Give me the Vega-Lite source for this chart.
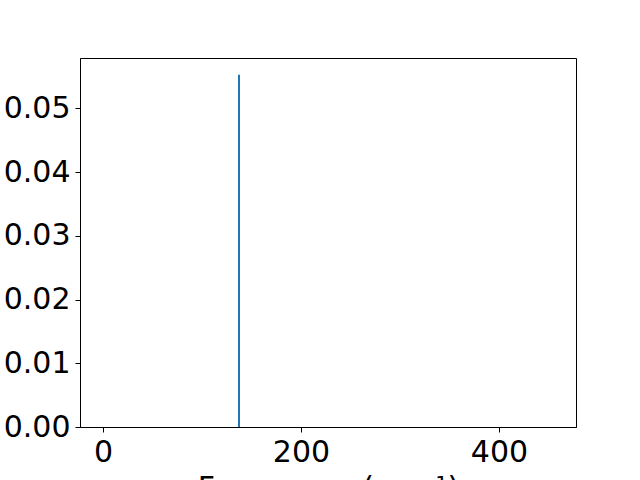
{
  "$schema": "https://vega.github.io/schema/vega-lite/v6.json",
  "width": 496,
  "height": 369,
  "autosize": {"type": "none"},
  "padding": {"left": 80, "top": 58, "right": 64, "bottom": 53},
  "background": "white",
  "config": {
    "view": {"stroke": "black", "strokeWidth": 1},
    "font": "DejaVu Sans",
    "axis": {
      "grid": false,
      "domainColor": "black",
      "tickColor": "black",
      "labelColor": "black",
      "titleColor": "black",
      "labelFont": "DejaVu Sans",
      "titleFont": "DejaVu Sans",
      "labelFontSize": 30,
      "titleFontSize": 30,
      "titleFontWeight": "normal",
      "tickSize": 5,
      "labelPadding": 5
    }
  },
  "data": {"values": [{"freq": 137.4, "base": 0, "intensity": 0.05526}]},
  "mark": {"type": "rule", "color": "#1f77b4", "strokeWidth": 2},
  "encoding": {
    "x": {
      "field": "freq",
      "type": "quantitative",
      "scale": {"domain": [-23.2, 477.8], "nice": false, "zero": false},
      "axis": {"values": [0, 200, 400], "title": "Frequency (cm⁻¹)", "titleY": 46, "titleBaseline": "top", "labelFlush": false}
    },
    "y": {
      "field": "base",
      "type": "quantitative",
      "scale": {"domain": [0, 0.0579], "nice": false},
      "axis": {"values": [0, 0.01, 0.02, 0.03, 0.04, 0.05], "format": ".2f", "title": null, "labelFlush": false}
    },
    "y2": {"field": "intensity"}
  }
}
